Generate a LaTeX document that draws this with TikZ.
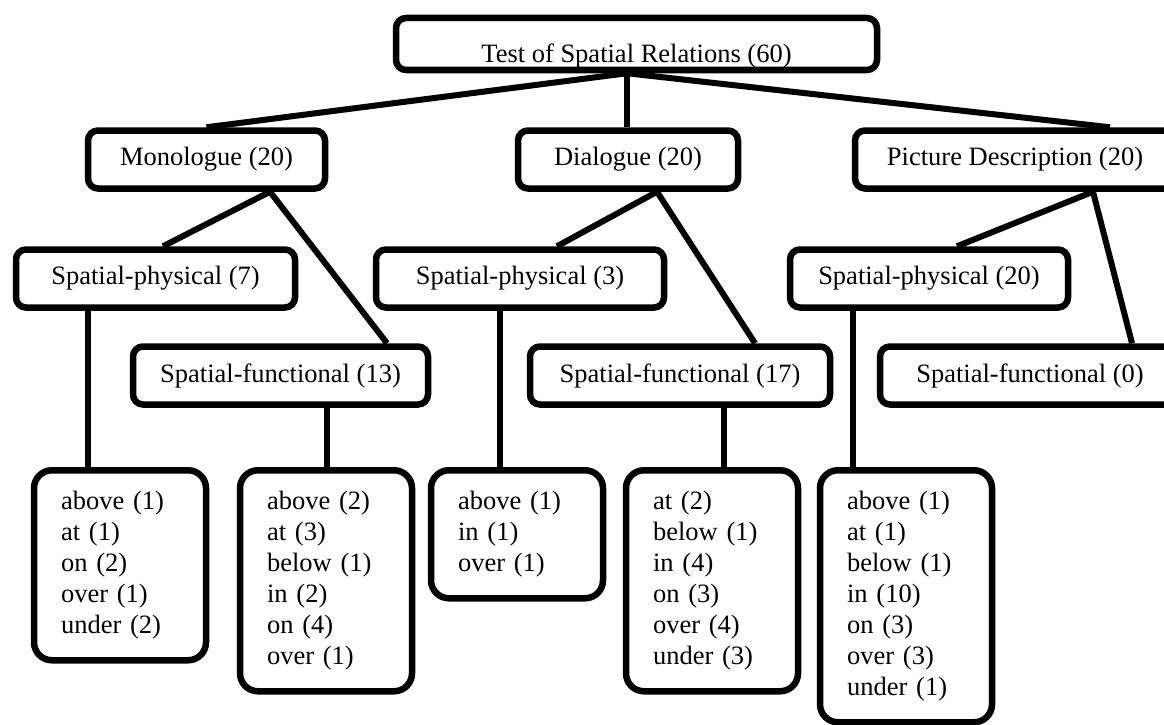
\documentclass[tikz,border=0pt]{standalone}
\usepackage{fontspec}
\setmainfont{Liberation Serif}
\usetikzlibrary{positioning}
\newcommand{\Count}[2]{#1 (#2)}
\tikzset{
	box/.style={draw, line width=6.5pt, rounded corners=10pt, minimum height=58pt,
		inner sep=0pt, font=\fontsize{26.5}{31}\selectfont},
	leaf/.style={draw, line width=6.5pt, rounded corners=18pt, anchor=north,
		text width=118pt, align=left, inner xsep=27pt, inner ysep=21pt,
		font=\fontsize{26.5}{31}\selectfont},
	link/.style={line width=6pt}
}

\begin{document}
\begin{tikzpicture}
		\useasboundingbox (0,0) rectangle (1164pt,-725pt);

		% Define nodes
		\node[box, minimum width=481pt, minimum height=52pt, text height=41pt, text depth=3pt,
			xshift=636.5pt, yshift=-44pt] (T) {\Count{Test of Spatial Relations}{60}};

		\node[box, minimum width=237pt, xshift=206.5pt, yshift=-159.5pt] (M) {\Count{Monologue}{20}};
		\node[box, minimum width=220pt, xshift=628pt, yshift=-159.5pt] (D) {\Count{Dialogue}{20}};
		\node[box, minimum width=320pt, xshift=1015pt, yshift=-159.5pt] (P) {\Count{Picture Description}{20}};

		\node[box, minimum width=279pt, xshift=155.5pt, yshift=-278.5pt] (MP) {\Count{Spatial-physical}{7}};
		\node[box, minimum width=288pt, xshift=520pt, yshift=-278.5pt] (DP) {\Count{Spatial-physical}{3}};
		\node[box, minimum width=278pt, xshift=929pt, yshift=-278.5pt] (PP) {\Count{Spatial-physical}{20}};

		\node[box, minimum width=295pt, xshift=280.5pt, yshift=-375.5pt] (MF) {\Count{Spatial-functional}{13}};
		\node[box, minimum width=300pt, xshift=680pt, yshift=-375.5pt] (DF) {\Count{Spatial-functional}{17}};
		\node[box, minimum width=300pt, xshift=1030pt, yshift=-375.5pt] (PF) {\Count{Spatial-functional}{0}};

		\node[leaf, xshift=120pt, yshift=-467pt] (MPL)
			{above (1)\\ at (1)\\ on (2)\\ over (1)\\ under (2)};
		\node[leaf, xshift=326pt, yshift=-467pt] (MFL)
			{above (2)\\ at (3)\\ below (1)\\ in (2)\\ on (4)\\ over (1)};
		\node[leaf, xshift=517pt, yshift=-467pt] (DPL)
			{above (1)\\ in (1)\\ over (1)};
		\node[leaf, xshift=712pt, yshift=-467pt] (DFL)
			{at (2)\\ below (1)\\ in (4)\\ on (3)\\ over (4)\\ under (3)};
		\node[leaf, xshift=906pt, yshift=-467pt] (PPL)
			{above (1)\\ at (1)\\ below (1)\\ in (10)\\ on (3)\\ over (3)\\ under (1)};

		% Connect the nodes
		\draw[link] ([xshift=-9.5pt]T.south) -- (M.north);
		\draw[link] ([xshift=-9.5pt]T.south) -- ([xshift=-1pt]D.north);
		\draw[link] ([xshift=-9.5pt]T.south) -- ([xshift=95pt]P.north);

		\draw[link] ([xshift=63.5pt]M.south) -- ([xshift=7.5pt]MP.north);
		\draw[link] ([xshift=63.5pt]M.south) -- ([xshift=106.5pt]MF.north);
		\draw[link] ([xshift=29pt]D.south) -- ([xshift=37pt]DP.north);
		\draw[link] ([xshift=29pt]D.south) -- ([xshift=75pt]DF.north);
		\draw[link] ([xshift=78pt]P.south) -- ([xshift=28pt]PP.north);
		\draw[link] ([xshift=78pt]P.south) -- ([xshift=102pt]PF.north);

		\draw[link] ([xshift=-67.5pt]MP.south) -- ([xshift=-67.5pt]MP.south |- MPL.north);
		\draw[link] ([xshift=46.5pt]MF.south) -- ([xshift=46.5pt]MF.south |- MFL.north);
		\draw[link] ([xshift=-20pt]DP.south) -- ([xshift=-20pt]DP.south |- DPL.north);
		\draw[link] ([xshift=44pt]DF.south) -- ([xshift=44pt]DF.south |- DFL.north);
		\draw[link] ([xshift=-76pt]PP.south) -- ([xshift=-76pt]PP.south |- PPL.north);
	\end{tikzpicture}
\end{document}
